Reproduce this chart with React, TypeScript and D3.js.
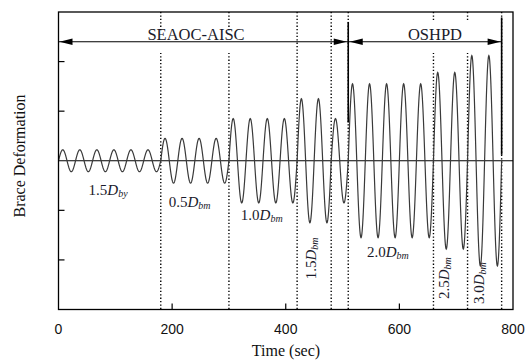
import React from "react";
import * as d3 from "d3";

// Loading protocol phases (time in s, amplitude in axis units)
const phaseStart = [0, 180, 300, 420, 480, 510, 660, 720];
const phaseEnd = [180, 300, 420, 480, 510, 660, 720, 780];
const phaseAmp = [0.22, 0.45, 0.85, 1.25, 0.85, 1.55, 1.78, 2.12];
const cyclePeriod = 30;

const dividerTimes = [180, 300, 420, 480, 510, 660, 720, 780];
const xTicks = [0, 200, 400, 600, 800];
const yTicks = [-2, -1, 1, 2];

type Lbl = { t: number; v: number; num: string; sub: string; rot: boolean };
const phaseLabels: Lbl[] = [
  { t: 53, v: -0.69, num: "1.5", sub: "by", rot: false },
  { t: 194, v: -0.93, num: "0.5", sub: "bm", rot: false },
  { t: 321, v: -1.19, num: "1.0", sub: "bm", rot: false },
  { t: 454, v: -2.39, num: "1.5", sub: "bm", rot: true },
  { t: 543, v: -1.95, num: "2.0", sub: "bm", rot: false },
  { t: 688, v: -2.79, num: "2.5", sub: "bm", rot: true },
  { t: 749, v: -2.89, num: "3.0", sub: "bm", rot: true },
];

const W = 530;
const H = 361;
const serif = "'Liberation Serif', 'Times New Roman', serif";
const sans = "'Liberation Sans', Arial, Helvetica, sans-serif";

export default function App() {
  const x = d3.scaleLinear().domain([0, 800]).range([58.5, 513]);
  const y = d3.scaleLinear().domain([-3, 3]).range([309.5, 12]);

  const pts: [number, number][] = [];
  phaseStart.forEach((s, i) => {
    const e = phaseEnd[i];
    for (let t = s; t <= e + 1e-9; t += 0.5) {
      pts.push([t, phaseAmp[i] * Math.sin((2 * Math.PI * (t - s)) / cyclePeriod)]);
    }
  });
  const line = d3
    .line<[number, number]>()
    .x((d) => x(d[0]))
    .y((d) => y(d[1]));

  const arrowY = y(2.4);
  const head = (tip: number, dir: number) => {
    const L = 13, h = 3.2;
    return `M${tip},${arrowY} L${tip - dir * L},${arrowY - h} L${tip - dir * L},${arrowY + h} Z`;
  };

  const renderLabel = (l: Lbl, i: number) => {
    const px = x(l.t);
    const py = y(l.v);
    return (
      <text
        key={i}
        x={0}
        y={0}
        transform={l.rot ? `translate(${px},${py}) rotate(-90)` : `translate(${px},${py})`}
        fontFamily={serif}
        fontSize={15}
        fill="#1a1a2a"
        textAnchor="start"
      >
        <tspan>{l.num}</tspan>
        <tspan fontStyle="italic">D</tspan>
        <tspan fontStyle="italic" fontSize={10} dy={2}>{l.sub}</tspan>
      </text>
    );
  };

  return (
    <svg
      width={W}
      height={H}
      style={{ position: "absolute", left: 0, top: 0, background: "#fff" }}
    >
      <rect x={0} y={0} width={W} height={H} fill="#fff" />
      {/* dotted phase dividers */}
      {dividerTimes.map((t) => (
        <line
          key={t}
          x1={x(t)}
          x2={x(t)}
          y1={y(3)}
          y2={y(-3)}
          stroke="#000"
          strokeWidth={1.4}
          strokeDasharray="1.3 2.1"
        />
      ))}
      {/* white boxes behind protocol labels */}
      <rect x={144} y={32} width={105} height={21} fill="#fff" />
      <rect x={399} y={20} width={73} height={33} fill="#fff" />

      {/* zero line */}
      <line x1={x(0)} x2={x(800)} y1={y(0)} y2={y(0)} stroke="#000" strokeWidth={1.2} />

      {/* waveform */}
      <path d={line(pts) ?? ""} fill="none" stroke="#3a3a3a" strokeWidth={1.2} />

      {/* solid separators */}
      <line x1={x(510)} x2={x(510)} y1={y(2.8)} y2={y(0.77)} stroke="#000" strokeWidth={1.6} />
      <line x1={x(780)} x2={x(780)} y1={y(2.89)} y2={y(0.12)} stroke="#000" strokeWidth={1.6} />

      {/* arrows */}
      <line x1={x(0)} x2={x(510)} y1={arrowY} y2={arrowY} stroke="#000" strokeWidth={1.2} />
      <line x1={x(510)} x2={x(780)} y1={arrowY} y2={arrowY} stroke="#000" strokeWidth={1.2} />
      <path d={head(x(0) + 1, -1)} fill="#000" />
      <path d={head(x(510) - 1.5, 1)} fill="#000" />
      <path d={head(x(510) + 1.5, -1)} fill="#000" />
      <path d={head(x(780) - 1, 1)} fill="#000" />

      <text x={196} y={40} textAnchor="middle" fontFamily={serif} fontSize={16.5} fill="#1a1a2a">
        SEAOC-AISC
      </text>
      <text x={435} y={39.5} textAnchor="middle" fontFamily={serif} fontSize={16.5} fill="#1a1a2a">
        OSHPD
      </text>

      {phaseLabels.map(renderLabel)}

      {/* frame */}
      <rect
        x={x(0)}
        y={y(3)}
        width={x(800) - x(0)}
        height={y(-3) - y(3)}
        fill="none"
        stroke="#000"
        strokeWidth={1.3}
      />
      {/* y ticks (inward) */}
      {yTicks.map((v) => (
        <line key={v} x1={x(0)} x2={x(0) + 6} y1={y(v)} y2={y(v)} stroke="#000" strokeWidth={1.2} />
      ))}
      {/* x ticks (inward) */}
      {xTicks.slice(1, -1).map((t) => (
        <line key={t} x1={x(t)} x2={x(t)} y1={y(-3)} y2={y(-3) - 6} stroke="#000" strokeWidth={1.2} />
      ))}
      {xTicks.map((t) => (
        <text key={t} x={x(t)} y={334} textAnchor="middle" fontFamily={sans} fontSize={14} fill="#111">
          {t}
        </text>
      ))}
      <text x={286} y={356} textAnchor="middle" fontFamily={serif} fontSize={16} fill="#111">
        Time (sec)
      </text>
      <text
        transform={`translate(25,156) rotate(-90)`}
        textAnchor="middle"
        fontFamily={serif}
        fontSize={16}
        fill="#111"
      >
        Brace Deformation
      </text>
    </svg>
  );
}
